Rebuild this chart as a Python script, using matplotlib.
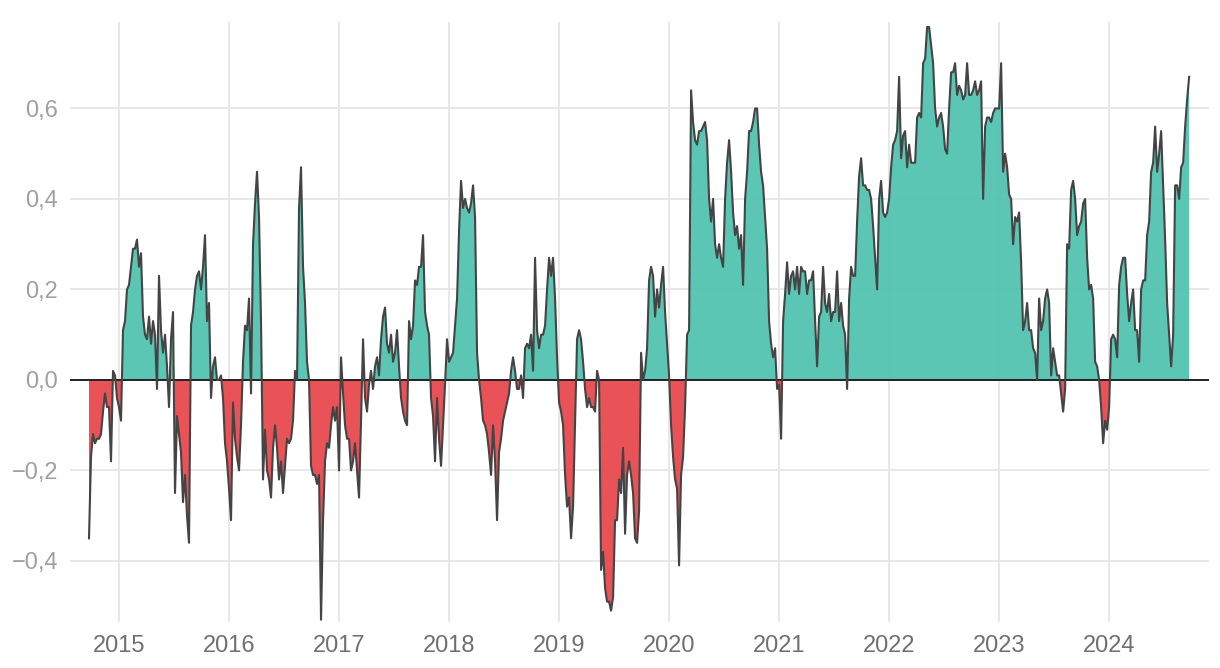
import numpy as np
import pandas as pd
import matplotlib
matplotlib.use("Agg")
import matplotlib.pyplot as plt
import matplotlib.dates as mdates
from matplotlib.ticker import FuncFormatter

# rolling correlation in six stretches (~6.6 days apart)
corr_2014_2016 = [
    -0.35, -0.17, -0.12, -0.14, -0.13, -0.13, -0.12, -0.07, -0.03, -0.06,
    -0.06, -0.18, 0.02, 0.01, -0.04, -0.06, -0.09, 0.11, 0.13, 0.20,
    0.21, 0.25, 0.29, 0.29, 0.31, 0.25, 0.28, 0.14, 0.10, 0.09,
    0.14, 0.08, 0.13, 0.10, -0.02, 0.23, 0.11, 0.06, 0.10, 0.03,
    -0.06, 0.09, 0.15, -0.25, -0.08, -0.12, -0.16, -0.27, -0.21, -0.30,
    -0.36, 0.12, 0.15, 0.20, 0.23, 0.24, 0.20, 0.25, 0.32, 0.13,
    0.17, -0.04, 0.03, 0.05, 0.00, 0.00, 0.01, -0.04, -0.14, -0.18,
    -0.24, -0.31, -0.05, -0.13, -0.17, -0.20, -0.10, 0.04, 0.12, 0.11,
    0.18, -0.03, 0.30, 0.39, 0.46, 0.36, 0.13, -0.22, -0.11, -0.20,
    -0.22, -0.26, -0.15, -0.10, -0.15,
]
corr_2016_2018 = [
    -0.22, -0.18, -0.25, -0.19, -0.13, -0.14, -0.13, -0.09, 0.02, 0.00,
    0.38, 0.47, 0.25, 0.17, 0.04, 0.00, -0.19, -0.21, -0.21, -0.23,
    -0.21, -0.53, -0.31, -0.18, -0.14, -0.15, -0.10, -0.06, -0.09, -0.06,
    -0.20, 0.05, -0.03, -0.10, -0.13, -0.13, -0.20, -0.18, -0.14, -0.20,
    -0.26, -0.09, 0.09, -0.04, -0.07, -0.01, 0.02, -0.02, 0.03, 0.05,
    0.01, 0.09, 0.14, 0.16, 0.08, 0.06, 0.10, 0.04, 0.06, 0.11,
    0.03, -0.04, -0.07, -0.09, -0.10, 0.13, 0.09, 0.12, 0.22, 0.21,
    0.25, 0.25, 0.32, 0.15, 0.12, 0.10, -0.04, -0.08, -0.18, -0.04,
    -0.13, -0.19, -0.10, -0.01, 0.09, 0.04, 0.05, 0.06, 0.12, 0.18,
    0.33, 0.44, 0.38, 0.40, 0.38,
]
corr_2018_2019 = [
    0.37, 0.39, 0.43, 0.36, 0.06, 0.00, -0.04, -0.09, -0.10, -0.12,
    -0.16, -0.21, -0.10, -0.18, -0.31, -0.16, -0.13, -0.09, -0.07, -0.05,
    -0.03, 0.02, 0.05, 0.02, -0.02, -0.02, 0.01, -0.04, 0.07, 0.08,
    0.07, 0.10, 0.02, 0.27, 0.11, 0.07, 0.10, 0.10, 0.12, 0.20,
    0.27, 0.23, 0.27, 0.18, 0.05, -0.05, -0.07, -0.10, -0.21, -0.28,
    -0.26, -0.35, -0.28, -0.10, 0.09, 0.11, 0.09, 0.04, -0.02, -0.06,
    -0.04, -0.06, -0.06, -0.07, 0.02, 0.00, -0.42, -0.38, -0.46, -0.49,
    -0.49, -0.51, -0.48, -0.31, -0.31, -0.22, -0.25, -0.15, -0.34, -0.21,
    -0.18, -0.21, -0.25, -0.35, -0.36, -0.29, 0.06, 0.00, 0.02, 0.07,
    0.22, 0.25, 0.23, 0.14, 0.20,
]
corr_2019_2021 = [
    0.16, 0.21, 0.25, 0.15, 0.08, 0.01, -0.10, -0.17, -0.22, -0.24,
    -0.41, -0.21, -0.17, -0.06, 0.10, 0.11, 0.64, 0.57, 0.53, 0.52,
    0.55, 0.55, 0.56, 0.57, 0.53, 0.40, 0.35, 0.40, 0.30, 0.27,
    0.30, 0.27, 0.25, 0.40, 0.48, 0.53, 0.46, 0.37, 0.32, 0.34,
    0.29, 0.32, 0.21, 0.40, 0.46, 0.55, 0.55, 0.57, 0.60, 0.60,
    0.52, 0.46, 0.43, 0.36, 0.29, 0.13, 0.08, 0.05, 0.07, -0.02,
    -0.01, -0.13, 0.13, 0.19, 0.26, 0.19, 0.23, 0.24, 0.20, 0.25,
    0.19, 0.25, 0.24, 0.24, 0.19, 0.22, 0.22, 0.24, 0.13, 0.03,
    0.14, 0.15, 0.25, 0.17, 0.15, 0.19, 0.13, 0.15, 0.15, 0.24,
    0.13, 0.17, 0.12, 0.10, -0.02,
]
corr_2021_2023 = [
    0.18, 0.25, 0.23, 0.23, 0.35, 0.45, 0.49, 0.43, 0.43, 0.42,
    0.42, 0.40, 0.34, 0.27, 0.20, 0.40, 0.44, 0.37, 0.36, 0.37,
    0.40, 0.47, 0.52, 0.53, 0.55, 0.67, 0.49, 0.54, 0.55, 0.47,
    0.52, 0.48, 0.48, 0.48, 0.58, 0.59, 0.58, 0.70, 0.71, 0.78,
    0.78, 0.74, 0.70, 0.60, 0.56, 0.58, 0.59, 0.56, 0.51, 0.50,
    0.60, 0.68, 0.68, 0.70, 0.63, 0.65, 0.64, 0.62, 0.63, 0.70,
    0.63, 0.63, 0.64, 0.66, 0.63, 0.64, 0.66, 0.40, 0.56, 0.58,
    0.58, 0.57, 0.59, 0.60, 0.60, 0.60, 0.70, 0.46, 0.50, 0.47,
    0.41, 0.40, 0.30, 0.36, 0.35, 0.37, 0.26, 0.11, 0.13, 0.17,
    0.11, 0.11, 0.07, 0.06, 0.00,
]
corr_2023_2024 = [
    0.18, 0.11, 0.13, 0.18, 0.20, 0.17, 0.01, 0.07, 0.04, 0.01,
    0.01, -0.03, -0.07, -0.02, 0.30, 0.29, 0.42, 0.44, 0.40, 0.32,
    0.34, 0.35, 0.39, 0.40, 0.27, 0.20, 0.21, 0.18, 0.04, 0.03,
    0.00, -0.06, -0.14, -0.09, -0.11, -0.06, 0.09, 0.10, 0.09, 0.05,
    0.21, 0.25, 0.27, 0.27, 0.19, 0.13, 0.17, 0.20, 0.11, 0.11,
    0.04, 0.20, 0.22, 0.22, 0.32, 0.35, 0.46, 0.48, 0.56, 0.46,
    0.50, 0.55, 0.43, 0.31, 0.17, 0.10, 0.03, 0.10, 0.43, 0.43,
    0.40, 0.47, 0.48, 0.56, 0.62, 0.67,
]

values = np.array(corr_2014_2016 + corr_2016_2018 + corr_2018_2019
                  + corr_2019_2021 + corr_2021_2023 + corr_2023_2024)
dates = pd.date_range("2014-09-23", "2024-09-23", periods=len(values))

GREEN = "#52c3b0"
RED = "#e84a4f"

plt.rcParams["font.family"] = ["Liberation Sans", "DejaVu Sans"]

fig = plt.figure(figsize=(12.2, 6.68), dpi=100)
ax = fig.add_axes([0.0574, 0.0689, 0.9336, 0.8981])

ax.fill_between(dates, values, 0, where=values >= 0, interpolate=True,
                color=GREEN, alpha=0.95, linewidth=0, zorder=2)
ax.fill_between(dates, values, 0, where=values <= 0, interpolate=True,
                color=RED, alpha=0.95, linewidth=0, zorder=2)
ax.axhline(0, color="#222222", lw=1.4, zorder=3)
ax.plot(dates, values, color="#444444", lw=1.5, zorder=4)

ax.set_xlim(pd.Timestamp("2014-07-22"), pd.Timestamp("2024-11-28"))
ax.set_ylim(-0.535, 0.791)
ax.set_yticks([-0.4, -0.2, 0.0, 0.2, 0.4, 0.6])
ax.yaxis.set_major_formatter(FuncFormatter(
    lambda v, p: f"{abs(v):.1f}".replace(".", ",") if abs(v) < 1e-9 or v > 0
    else "\u2212" + f"{abs(v):.1f}".replace(".", ",")))
ax.xaxis.set_major_locator(mdates.YearLocator())
ax.xaxis.set_major_formatter(mdates.DateFormatter("%Y"))

ax.grid(True, color="#e6e6e6", lw=1.3)
ax.set_axisbelow(True)
for s in ax.spines.values():
    s.set_visible(False)
ax.tick_params(axis="both", length=0, labelsize=17)
ax.tick_params(axis="y", pad=8.5, labelcolor="#a0a0a0")
ax.tick_params(axis="x", pad=9.5, labelcolor="#707070")

fig.savefig("out.png", dpi=100)
